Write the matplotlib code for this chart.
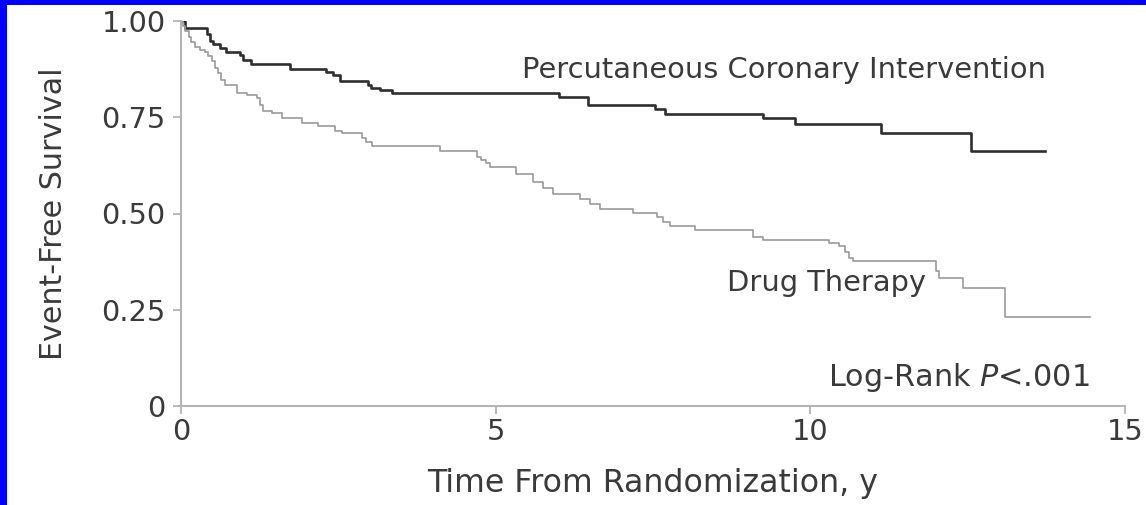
import matplotlib
matplotlib.use("Agg")
import matplotlib.pyplot as plt
from matplotlib.patches import Rectangle

# Kaplan-Meier step points: (time in years, event-free survival)
pci_t = [0, 0.06, 0.41, 0.46, 0.51, 0.62, 0.71, 0.94, 0.99, 1.12, 1.73, 2.31,
         2.42, 2.53, 2.97, 3.02, 3.16, 3.35, 6.00, 6.47, 7.53, 7.69, 9.25,
         9.76, 11.12, 12.55, 13.73]
pci_s = [1.000, 0.983, 0.967, 0.949, 0.941, 0.930, 0.919, 0.911, 0.900, 0.889,
         0.876, 0.867, 0.859, 0.844, 0.835, 0.827, 0.820, 0.814, 0.802, 0.783,
         0.772, 0.759, 0.748, 0.733, 0.708, 0.663, 0.663]

drug_t = [0, 0.03, 0.06, 0.12, 0.16, 0.22, 0.30, 0.38, 0.43, 0.49, 0.54, 0.59,
          0.64, 0.70, 0.89, 1.05, 1.21, 1.26, 1.30, 1.45, 1.60, 1.92, 2.18,
          2.45, 2.56, 2.88, 2.94, 3.03, 4.12, 4.70, 4.76, 4.84, 4.91, 5.33,
          5.59, 5.75, 5.91, 6.34, 6.50, 6.66, 7.18, 7.56, 7.66, 7.77, 8.17,
          9.09, 9.25, 10.29, 10.45, 10.55, 10.62, 10.68, 12.00, 12.05, 12.43,
          13.09, 14.44]
drug_s = [1.000, 0.986, 0.973, 0.958, 0.945, 0.932, 0.924, 0.919, 0.908, 0.895,
          0.879, 0.864, 0.848, 0.833, 0.814, 0.807, 0.799, 0.783, 0.767, 0.760,
          0.747, 0.736, 0.728, 0.715, 0.708, 0.697, 0.687, 0.676, 0.662, 0.646,
          0.638, 0.630, 0.620, 0.603, 0.581, 0.567, 0.551, 0.537, 0.525, 0.511,
          0.501, 0.490, 0.478, 0.468, 0.457, 0.438, 0.431, 0.424, 0.416, 0.400,
          0.385, 0.377, 0.351, 0.332, 0.307, 0.231, 0.231]

xticks = [0, 5, 10, 15]
yticks = [0, 0.25, 0.5, 0.75, 1.0]
ytick_labels = ["0", "0.25", "0.50", "0.75", "1.00"]

txt = "#3a3a3a"
axcol = "#b4b4b4"
plt.rcParams["font.family"] = ["DejaVu Sans"]
plt.rcParams["font.size"] = 20.8

fig = plt.figure(figsize=(11.46, 5.05), dpi=100)
fig.patch.set_facecolor("#0000ff")
fig.add_artist(Rectangle((7 / 1146, 0), 1, 1 - 5 / 505, transform=fig.transFigure,
                         facecolor="white", edgecolor="none", zorder=-1))

ax = fig.add_axes([181 / 1146, 1 - 406 / 505, 944 / 1146, 385 / 505])
ax.step(pci_t, pci_s, where="post", color="#2e2e2e", lw=1.9)
ax.step(drug_t, drug_s, where="post", color="#9a9a9a", lw=1.2)

ax.set_xlim(0, 15)
ax.set_ylim(0, 1)
ax.set_xticks(xticks)
ax.set_yticks(yticks)
ax.set_yticklabels(ytick_labels)
for s in ["top", "right"]:
    ax.spines[s].set_visible(False)
for s in ["left", "bottom"]:
    ax.spines[s].set_color(axcol)
    ax.spines[s].set_linewidth(1.5)
ax.tick_params(direction="out", length=6, width=1.3, color=axcol,
               labelcolor=txt, labelsize=20.8)
ax.tick_params(axis="x", pad=3)
ax.tick_params(axis="y", pad=5)

ax.set_xlabel("Time From Randomization, y", color=txt, fontsize=22.8)
ax.set_ylabel("Event-Free Survival", color=txt, fontsize=21.7)
ax.xaxis.set_label_coords(0.5, -0.16)
ax.yaxis.set_label_coords(-0.12, 0.5)

ax.text(5.42, 0.873, "Percutaneous Coronary Intervention", color=txt,
        fontsize=20.8, ha="left", va="center")
ax.text(8.68, 0.319, "Drug Therapy", color=txt, fontsize=20.8,
        ha="left", va="center")
ax.text(10.28, 0.073, r"Log-Rank $\it{P}$<.001", color=txt, fontsize=21.8,
        ha="left", va="center")

fig.savefig("out.png", dpi=100, facecolor=fig.get_facecolor())
